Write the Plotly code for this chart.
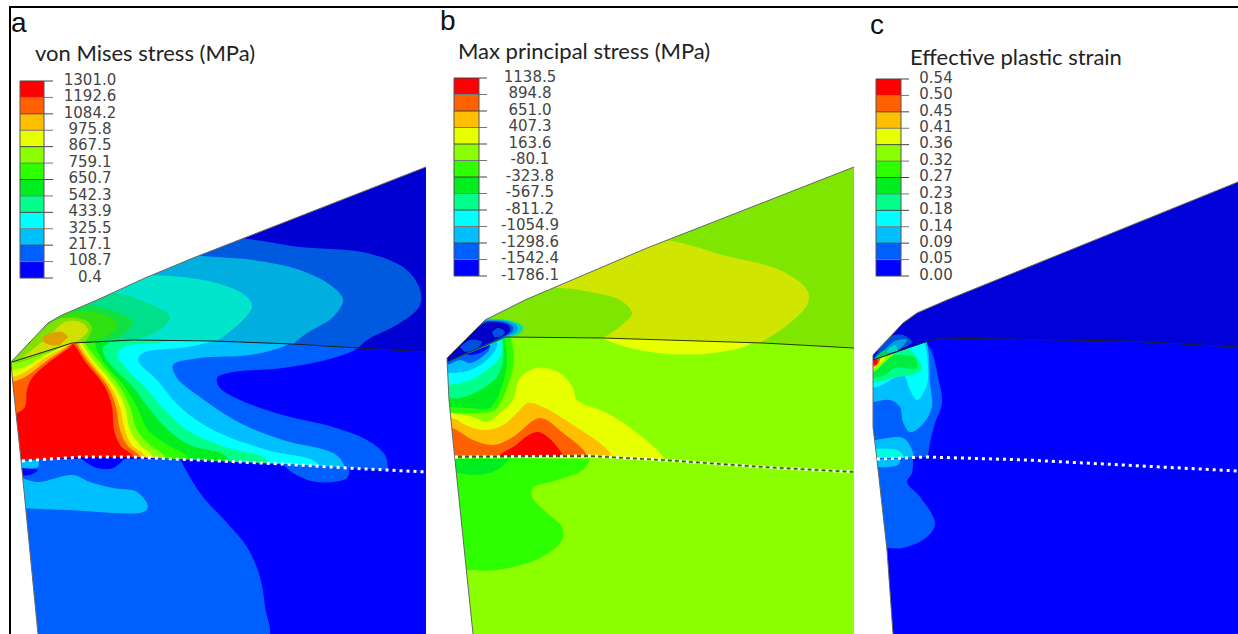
import plotly.graph_objects as go

# ---------- legend data ----------
LEVEL_COLORS = ["#ff0000", "#ff6000", "#ffbf00", "#e8ff00", "#8bff00", "#2eff00",
                "#00ee20", "#00ff8b", "#00ffff", "#00bfff", "#0060ff", "#0000ff"]
LABELS_A = ["1301.0", "1192.6", "1084.2", "975.8", "867.5", "759.1", "650.7",
            "542.3", "433.9", "325.5", "217.1", "108.7", "0.4"]
LABELS_B = ["1138.5", "894.8", "651.0", "407.3", "163.6", "-80.1", "-323.8",
            "-567.5", "-811.2", "-1054.9", "-1298.6", "-1542.4", "-1786.1"]
LABELS_C = ["0.54", "0.50", "0.45", "0.41", "0.36", "0.32", "0.27",
            "0.23", "0.18", "0.14", "0.09", "0.05", "0.00"]
TITLES = ["von Mises stress (MPa)", "Max principal stress (MPa)", "Effective plastic strain"]
PANEL_LETTERS = ["a", "b", "c"]

# ---------- panel a geometry ----------
A_TOP = [(426, 167), (240, 240), (193, 258), (145, 278), (97, 300), (62, 315), (48, 323), (11, 362)]
A_LEFT = [(11, 362), (13, 385), (21, 460), (38, 634)]
A_LINE = [(12, 362), (72, 343), (133, 340), (213, 341), (293, 344), (358, 348), (426, 352)]
A_DOTS = [(22, 461), (80, 457), (133, 457), (217, 461), (283, 464), (347, 468), (426, 472)]
A_MID = [
    ("#0060ff", [(0,330),(200,330),(370,335),(358,348),(333,358),(283,368),(233,372),(217,378),(220,388),(240,400),(283,415),(333,427),(367,440),(385,455),(388,470),(388,480),(0,480)]),
    ("#00bfff", [(0,330),(200,330),(300,335),(287,345),(250,355),(200,358),(173,365),(177,378),(200,397),(240,423),(283,440),(333,453),(343,463),(345,480),(0,480)]),
    ("#00ffff", [(0,330),(150,330),(225,335),(213,341),(187,347),(143,353),(138,360),(157,380),(180,407),(213,430),(267,450),(317,463),(320,480),(0,480)]),
    ("#00ff8b", [(0,330),(140,330),(175,335),(167,341),(123,347),(117,355),(125,367),(145,387),(165,410),(187,430),(225,447),(267,460),(270,480),(0,480)]),
    ("#00ee20", [(0,330),(100,330),(115,336),(110,342),(103,348),(107,360),(133,387),(148,407),(168,430),(190,445),(227,457),(230,480),(0,480)]),
    ("#2eff00", [(0,330),(90,330),(97,338),(95,343),(102,360),(125,387),(137,407),(148,430),(168,445),(187,457),(190,480),(0,480)]),
    ("#8bff00", [(0,330),(80,330),(85,343),(98,360),(120,387),(130,407),(137,430),(150,445),(165,457),(167,480),(0,480)]),
    ("#e8ff00", [(0,371),(12,370),(25,367),(42,357),(63,345),(70,335),(78,335),(83,345),(93,360),(115,387),(125,407),(130,430),(140,445),(153,457),(155,480),(0,480)]),
    ("#ffbf00", [(0,378),(12,377),(25,372),(45,358),(68,345),(75,338),(78,338),(80,345),(90,360),(111,387),(120,407),(125,430),(132,445),(146,457),(148,480),(0,480)]),
    ("#ff6000", [(0,383),(12,382),(25,377),(48,360),(72,343),(74,339),(76,339),(77,344),(87,360),(108,387),(116,407),(120,430),(127,445),(140,457),(142,480),(0,480)]),
    ("#ff0000", [(0,416),(17,413),(25,407),(27,390),(32,378),(48,363),(70,347),(73,344),(76,347),(84,360),(105,387),(112,407),(114,430),(120,445),(133,457),(135,480),(0,480)]),
]
A_UPPER_BASE = "#0000d2"
A_UPPER = [
    ("#005ae0", [(358,348),(367,340),(400,323),(419,307),(421,293),(407,270),(367,253),(300,247),(240,238),(100,230),(0,280),(0,366),(12,362),(72,343),(133,340),(213,341),(293,344)]),
    ("#00aee0", [(293,344),(307,333),(333,317),(343,300),(333,287),(300,270),(253,260),(193,255),(100,240),(0,280),(0,366),(12,362),(72,343),(133,340),(213,341)]),
    ("#00e5cc", [(217,341),(240,323),(252,307),(247,297),(217,283),(148,275),(60,280),(0,300),(0,366),(12,362),(72,343),(133,340)]),
    ("#00e08a", [(127,341),(157,332),(170,317),(147,303),(115,293),(60,300),(0,340),(0,366),(12,362),(72,343)]),
    ("#10e040", [(117,339),(133,322),(110,310),(75,305),(40,320),(0,366),(12,362),(72,343)]),
    ("#30e010", [(100,340),(118,325),(105,315),(70,312),(45,325),(12,362),(72,343)]),
    ("#80e000", [(85,342),(92,328),(85,320),(62,318),(48,325),(12,362),(72,343)]),
    ("#d0e000", [(75,343),(88,330),(80,322),(65,322),(50,335),(22,358)]),
    ("#e0a000", [(68,337),(62,332),(48,334),(42,340),(50,345),(60,345)]),
]
A_LOWER = [
    ("#0060ff", [(180,459),(200,493),(227,523),(247,547),(260,577),(265,607),(267,640),(20,640),(20,459)]),
    ("#0060ff", [(283,464),(293,473),(317,482),(347,478),(349,468)]),
    ("#0000ff", [(80,458),(97,468),(113,468),(125,458)]),
    ("#0000ff", [(20,468),(38,470),(30,475),(20,475)]),
    ("#00bfff", [(20,462),(38,461),(38,467),(20,468)]),
    ("#00bfff", [(20,477),(37,482),(73,475),(90,482),(113,488),(137,492),(148,507),(143,512),(67,510),(20,508)]),
]

# ---------- panel b geometry ----------
B_TOP = [(854, 167), (647, 248), (525, 300), (485, 320), (447, 358)]
B_LEFT = [(447, 358), (449, 400), (455, 460), (473, 634)]
B_LINE = [(447, 362), (505, 337), (603, 338), (763, 343), (854, 348)]
B_DOTS = [(455, 457), (590, 456), (663, 460), (763, 467), (854, 472)]
B_MID = [
    ("#e8ff00", [(595,330),(603,338),(630,348),(670,354),(713,353),(752,343),(760,330)]),
    ("#2eff00", [(430,330),(505,330),(510,338),(513,347),(513,367),(505,393),(495,410),(473,413),(453,413),(430,413)]),
    ("#00ee20", [(430,330),(503,330),(505,340),(507,360),(503,383),(490,408),(470,408),(450,407),(430,407)]),
    ("#00ff8b", [(430,330),(500,330),(503,342),(503,360),(497,377),(480,390),(460,398),(448,398),(430,398)]),
    ("#00ffff", [(430,330),(498,330),(502,343),(500,357),(487,370),(470,380),(448,385),(430,385)]),
    ("#00bfff", [(430,330),(490,330),(497,345),(490,357),(477,367),(463,372),(447,373),(430,373)]),
    ("#0060ff", [(430,330),(480,330),(490,347),(482,357),(470,363),(460,360),(447,365),(430,365)]),
    ("#0000ff", [(430,330),(470,330),(490,345),(482,352),(470,355),(455,352),(447,358),(430,360)]),
    ("#e8ff00", [(430,411),(452,413),(473,417),(487,422),(500,413),(513,400),(520,378),(537,368),(560,373),(573,388),(577,400),(607,413),(637,433),(663,457),(670,480),(430,480)]),
    ("#ffbf00", [(430,417),(452,418),(470,427),(487,430),(503,425),(517,413),(528,403),(543,407),(573,425),(612,455),(618,480),(430,480)]),
    ("#ff6000", [(430,427),(452,428),(473,440),(493,445),(513,437),(540,418),(563,433),(587,455),(590,480),(430,480)]),
    ("#ff0000", [(490,480),(498,457),(513,447),(538,432),(563,455),(570,480)]),
]
B_UPPER_BASE = "#7ee600"
B_UPPER = [
    ("#d0e600", [(760,343),(790,323),(808,303),(807,290),(780,270),(730,257),(647,240),(550,285),(580,290),(620,300),(632,313),(622,325),(603,338)]),
    ("#00d8c0", [(507,338),(520,333),(523,327),(515,322),(497,319),(480,320),(440,350),(447,362)]),
    ("#00a0e0", [(505,337),(515,333),(518,327),(510,322),(495,320),(483,321),(447,358),(447,362)]),
    ("#0050e0", [(503,337),(512,332),(513,327),(505,322),(490,321),(484,322),(447,358),(447,362)]),
    ("#0000c8", [(500,338),(510,331),(508,325),(495,322),(485,323),(447,358),(447,362)]),
    ("#0050e0", [(492,332),(498,328),(505,332),(500,337),(494,337)]),
    ("#0050e0", [(460,347),(470,340),(482,342),(475,350),(465,352)]),
]
B_LOWER = [
    ("#2eff00", [(590,459),(583,470),(557,480),(533,488),(532,497),(547,513),(562,527),(562,540),(540,558),(497,570),(467,570),(440,570),(440,457)]),
    ("#00ee20", [(510,459),(493,472),(473,475),(458,473),(440,473),(440,459)]),
]

# ---------- panel c geometry ----------
C_TOP = [(1238, 182), (947, 300), (917, 313), (903, 323), (873, 355)]
C_LEFT = [(873, 355), (873, 427), (877, 460), (887, 550), (893, 634)]
C_LINE = [(873, 360), (923, 343), (937, 338), (1127, 341), (1238, 347)]
C_DOTS = [(877, 459), (927, 457), (1027, 460), (1127, 465), (1238, 471)]
C_MID = [
    ("#0060ff", [(860,330),(920,330),(923,343),(930,348),(938,377),(942,403),(935,423),(930,443),(928,455),(925,470),(860,470)]),
    ("#00bfff", [(860,330),(920,330),(927,343),(930,383),(932,407),(922,425),(910,432),(903,422),(900,407),(890,400),(873,402),(860,402)]),
    ("#00bfff", [(860,442),(875,440),(903,438),(912,450),(914,470),(860,470)]),
    ("#00ffff", [(860,330),(915,330),(925,345),(928,367),(927,385),(917,400),(910,390),(903,375),(877,387),(860,388)]),
    ("#00ffe0", [(860,450),(897,450),(905,458),(905,470),(860,470)]),
    ("#00ff8b", [(860,352),(890,348),(910,350),(922,368),(915,374),(898,377),(873,383),(860,384)]),
    ("#00ee40", [(860,360),(880,357),(900,355),(915,358),(917,368),(895,368),(885,375),(873,378),(860,378)]),
    ("#8bff00", [(860,358),(873,358),(885,352),(895,352),(885,362),(873,372),(860,372)]),
    ("#e8ff00", [(860,358),(873,358),(882,355),(885,358),(878,365),(873,369),(860,369)]),
    ("#ff6000", [(860,356),(873,356),(880,355),(880,360),(876,366),(873,367),(860,367)]),
    ("#ff0000", [(860,358),(873,358),(877,358),(877,364),(873,365),(860,365)]),
]
C_UPPER_BASE = "#0000d8"
C_UPPER = [
    ("#0050e0", [(873,360),(890,337),(903,335),(912,342),(905,347)]),
    ("#00a0e0", [(878,358),(895,341),(907,340),(900,349)]),
    ("#00d8c0", [(882,355),(895,345),(898,351)]),
    ("#00d060", [(875,358),(885,350),(888,354),(875,360)]),
]
C_LOWER = [
    ("#0060ff", [(913,458),(912,473),(907,482),(920,497),(935,523),(927,537),(903,548),(887,548),(870,548),(870,458)]),
    ("#00bfff", [(900,459),(898,465),(870,465),(870,459)]),
]

# ---------- panel placement ----------
PANELS = [
    dict(x0=0, x1=426, top=A_TOP, left=A_LEFT, line=A_LINE, dots=A_DOTS, mid=A_MID, upper_base=A_UPPER_BASE, upper=A_UPPER, lower=A_LOWER, dark=False),
    dict(x0=426, x1=854, top=B_TOP, left=B_LEFT, line=B_LINE, dots=B_DOTS, mid=B_MID, upper_base=B_UPPER_BASE, upper=B_UPPER, lower=B_LOWER, dark=True),
    dict(x0=854, x1=1238, top=C_TOP, left=C_LEFT, line=C_LINE, dots=C_DOTS, mid=C_MID, upper_base=C_UPPER_BASE, upper=C_UPPER, lower=C_LOWER, dark=False),
]
LOWER_BASE = ["#0000ff", "#8bff00", "#0000ff"]
LEGENDS = [
    dict(x0=20, x1=44, xt=53, xl=90, y0=81, y1=278, labels=LABELS_A, tx=33, ty=52),
    dict(x0=454, x1=479, xt=487, xl=530, y0=78, y1=276, labels=LABELS_B, tx=456, ty=50),
    dict(x0=876, x1=901, xt=909, xl=936, y0=79, y1=276, labels=LABELS_C, tx=908, ty=56),
]
LETTER_POS = [(11, 22), (440, 20), (870, 24)]

fig = go.Figure()


def poly(points, color, shape="spline"):
    fig.add_trace(go.Scatter(x=[p[0] for p in points], y=[p[1] for p in points], mode="lines",
                             line=dict(width=0, shape=shape, color=color), fill="toself",
                             fillcolor=color, hoverinfo="skip", showlegend=False))


def stroke(points, color, width, dash="solid"):
    fig.add_trace(go.Scatter(x=[p[0] for p in points], y=[p[1] for p in points], mode="lines",
                             line=dict(width=width, color=color, dash=dash), hoverinfo="skip", showlegend=False))


for pan, lb in zip(PANELS, LOWER_BASE):
    x0, x1 = pan["x0"], pan["x1"]
    # middle tier: between black line and dotted line
    poly([(x0, 330), (x1 + 4, 330), (x1 + 4, 480), (x0, 480)], lb, "linear")
    for c, pts in pan["mid"]:
        poly(pts, c)
    # upper tier: above black line
    poly([(x0, 100), (x1 + 4, 100), (x1 + 4, pan["line"][-1][1])] + pan["line"][::-1] + [(x0, pan["line"][0][1])],
         pan["upper_base"], "linear")
    for c, pts in pan["upper"]:
        poly(pts, c)
    # lower tier: below dotted line
    poly([(x0, 640), (x1 + 4, 640), (x1 + 4, pan["dots"][-1][1])] + pan["dots"][::-1] + [(x0, pan["dots"][0][1])],
         lb, "linear")
    for c, pts in pan["lower"]:
        poly(pts, c)
    # white outside of the body
    mask = [(x0, 0), (x1, 0)] + pan["top"] + pan["left"][1:] + [(x0, 640)]
    poly(mask, "#ffffff", "linear")
    # contour lines
    stroke(pan["top"] + pan["left"][1:], "#666666", 1)
    stroke(pan["line"], "#222222" if not pan["dark"] else "#2a3a00", 1)
    if pan["dark"]:
        stroke(pan["dots"], "#3a5a10", 1.5)
    stroke(pan["dots"], "#ffffff", 3, "3px,4px")

poly([(860, 0), (1238, 0), (1238, 7), (860, 7)], "#ffffff", "linear")

# legends
for leg in LEGENDS:
    n = len(leg["labels"])
    ys = [leg["y0"] + (leg["y1"] - leg["y0"]) * i / (n - 1) for i in range(n)]
    for i, col in enumerate(LEVEL_COLORS):
        poly([(leg["x0"], ys[i]), (leg["x1"], ys[i]), (leg["x1"], ys[i + 1]), (leg["x0"], ys[i + 1])], col, "linear")
    for i, y in enumerate(ys):
        stroke([(leg["x0"], y), (leg["xt"], y)], "#444444" if i % 2 == 0 else "#777777", 1)
    stroke([(leg["x0"], ys[0]), (leg["x0"], ys[-1])], "#555555", 1)
    stroke([(leg["x1"], ys[0]), (leg["x1"], ys[-1])], "#555555", 1)
    fig.add_trace(go.Scatter(x=[leg["xl"]] * n, y=ys, mode="text", text=leg["labels"], textposition="middle center",
                             textfont=dict(family="DejaVu Sans", size=15, color="#444444"),
                             hoverinfo="skip", showlegend=False))

annotations = []
for leg, title in zip(LEGENDS, TITLES):
    annotations.append(dict(x=leg["tx"], y=leg["ty"], xref="x", yref="y", text=title, showarrow=False,
                            xanchor="left", yanchor="middle",
                            font=dict(family="Lato", size=22, color="#222222")))
for (x, y), letter in zip(LETTER_POS, PANEL_LETTERS):
    annotations.append(dict(x=x, y=y, xref="x", yref="y", text=letter, showarrow=False,
                            xanchor="left", yanchor="middle",
                            xshift=-2, font=dict(family="Liberation Sans", size=28, color="#111111")))

# frame
stroke([(10, 634), (10, 7), (1238, 7)], "#000000", 2)

fig.update_layout(width=1238, height=634, margin=dict(l=0, r=0, t=0, b=0), paper_bgcolor="white", plot_bgcolor="white",
                  xaxis=dict(range=[0, 1238], visible=False, fixedrange=True),
                  yaxis=dict(range=[634, 0], visible=False, fixedrange=True),
                  annotations=annotations, showlegend=False)
fig.write_html("out.html", config={"displayModeBar": False}, post_script="document.body.style.margin='0';")
